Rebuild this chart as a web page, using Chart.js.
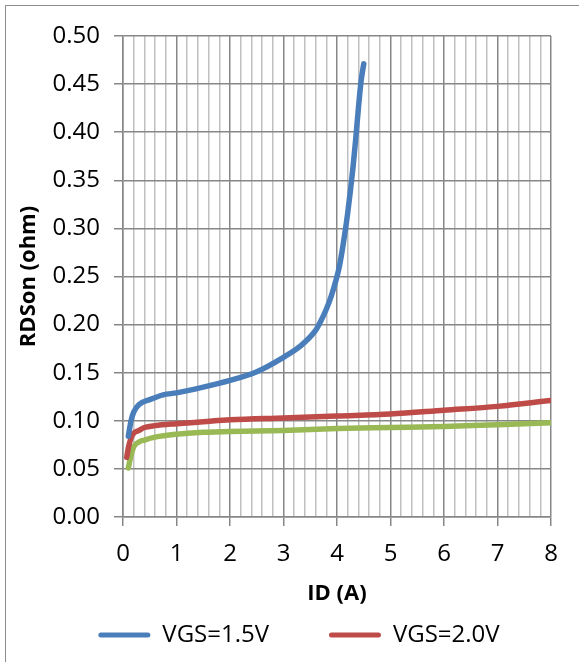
<!DOCTYPE html>
<html>
<head>
<meta charset="utf-8">
<script src="https://cdn.jsdelivr.net/npm/chart.js@4"></script>
<style>
  html, body { margin: 0; padding: 0; overflow: hidden; background: #fff; }
  #frame { position: absolute; left: 5px; top: 5px; width: 700px; height: 800px; border: 1px solid #8c8c8c; }
  #chart { position: absolute; left: 0; top: 0; }
</style>
</head>
<body>
<div id="frame"></div>
<canvas id="chart" width="598" height="662"></canvas>
<script>
// values
const seriesLabels = ['VGS=1.5V', 'VGS=2.0V', 'VGS=2.5V'];

const id15 = [0.1, 0.15, 0.2, 0.3, 0.5, 0.75, 1.0, 1.5, 2.0, 2.5, 3.0, 3.3, 3.6, 3.7, 3.8, 3.9, 4.0, 4.05, 4.1, 4.15, 4.2, 4.25, 4.3, 4.35, 4.4, 4.45, 4.5];
const rds15 = [0.084, 0.100, 0.109, 0.117, 0.122, 0.127, 0.129, 0.135, 0.142, 0.151, 0.166, 0.177, 0.194, 0.204, 0.216, 0.231, 0.250, 0.262, 0.278, 0.296, 0.316, 0.339, 0.364, 0.393, 0.425, 0.453, 0.471];

const id20 = [0.07, 0.1, 0.15, 0.2, 0.3, 0.4, 0.6, 1.0, 1.5, 2.0, 3.0, 4.0, 5.0, 6.0, 7.0, 8.0];
const rds20 = [0.062, 0.072, 0.082, 0.087, 0.090, 0.093, 0.095, 0.097, 0.099, 0.101, 0.103, 0.105, 0.107, 0.111, 0.115, 0.121];

const id25 = [0.1, 0.15, 0.2, 0.3, 0.4, 0.6, 1.0, 1.5, 2.0, 3.0, 4.0, 5.0, 6.0, 7.0, 8.0];
const rds25 = [0.051, 0.064, 0.073, 0.078, 0.080, 0.083, 0.086, 0.088, 0.089, 0.090, 0.092, 0.093, 0.094, 0.096, 0.098];

const xTicks = [0, 1, 2, 3, 4, 5, 6, 7, 8];
const yTicks = [0, 0.05, 0.10, 0.15, 0.20, 0.25, 0.30, 0.35, 0.40, 0.45, 0.50];

const colors = ['#4a7ebb', '#be4b48', '#98b954'];
const majorGrid = '#878787';
const minorGrid = '#c0c0c0';
const fontFamily = '"Open Sans", sans-serif';

const toPoints = (xs, ys) => xs.map((x, i) => ({ x, y: ys[i] }));
const isMajor = v => Math.abs(v - Math.round(v)) < 1e-6;

const makeSet = (label, pts, color) => ({
    label,
    data: pts,
    borderColor: color,
    backgroundColor: color,
    borderWidth: 5.5,
    borderCapStyle: 'round',
    pointRadius: 0,
    cubicInterpolationMode: 'monotone',
    fill: false
});

new Chart(document.getElementById('chart'), {
    type: 'line',
    data: {
        datasets: [
            makeSet(seriesLabels[0], toPoints(id15, rds15), colors[0]),
            makeSet(seriesLabels[1], toPoints(id20, rds20), colors[1]),
            makeSet(seriesLabels[2], toPoints(id25, rds25), colors[2])
        ]
    },
    options: {
        responsive: false,
        animation: false,
        layout: { padding: { left: 0, top: 36, right: 0, bottom: 5 } },
        scales: {
            x: {
                type: 'linear',
                min: xTicks[0],
                max: xTicks[xTicks.length - 1],
                afterFit: scale => { scale.height = 96; },
                ticks: {
                    stepSize: 0.2,
                    autoSkip: false,
                    maxRotation: 0,
                    padding: 14,
                    color: '#000',
                    font: { family: fontFamily, size: 24 },
                    callback: v => isMajor(v) && xTicks.includes(Math.round(v)) ? String(Math.round(v)) : ''
                },
                grid: {
                    color: ctx => isMajor(ctx.tick.value) ? majorGrid : minorGrid,
                    tickColor: ctx => isMajor(ctx.tick.value) ? majorGrid : 'rgba(0,0,0,0)',
                    lineWidth: 1.5,
                    tickLength: 9
                },
                border: { color: majorGrid, width: 1.5 },
                title: {
                    display: true,
                    text: 'ID (A)',
                    color: '#000',
                    font: { family: fontFamily, size: 22, weight: 'bold' },
                    padding: { top: 0, bottom: 6 }
                }
            },
            y: {
                min: yTicks[0],
                max: yTicks[yTicks.length - 1],
                afterFit: scale => { scale.width = 123; },
                ticks: {
                    stepSize: 0.05,
                    padding: 14,
                    color: '#000',
                    font: { family: fontFamily, size: 24 },
                    callback: v => v.toFixed(2)
                },
                grid: { color: majorGrid, lineWidth: 1.5, tickLength: 9 },
                border: { color: majorGrid, width: 1.5 },
                title: {
                    display: true,
                    text: 'RDSon (ohm)',
                    color: '#000',
                    font: { family: fontFamily, size: 22, weight: 'bold' },
                    padding: { top: 16, bottom: 0 }
                }
            },
            // empty spacer on the right so the legend is centred like the original wider chart
            spacer: {
                type: 'linear',
                position: 'right',
                display: true,
                afterFit: scale => { scale.width = 47; },
                ticks: { display: false },
                grid: { display: false, drawTicks: false },
                border: { display: false }
            }
        },
        plugins: {
            legend: {
                position: 'bottom',
                labels: {
                    boxWidth: 52,
                    boxHeight: 5,
                    useBorderRadius: true,
                    borderRadius: 2.5,
                    padding: 10,
                    color: '#000',
                    font: { family: fontFamily, size: 24 },
                    generateLabels: chart => Chart.defaults.plugins.legend.labels.generateLabels(chart)
                        .filter(item => item.datasetIndex < 2)
                        .map(item => ({
                            ...item,
                            lineWidth: 0,
                            strokeStyle: 'rgba(0,0,0,0)',
                            text: item.datasetIndex === 0 ? item.text + '        ' : item.text
                        }))
                }
            },
            tooltip: { enabled: false }
        }
    }
});
</script>
</body>
</html>
